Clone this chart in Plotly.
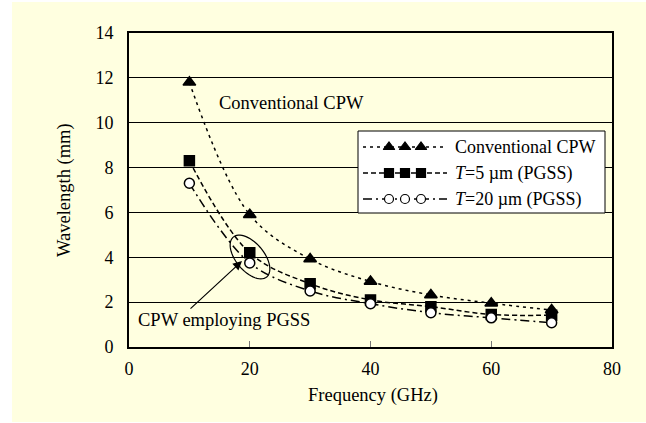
import numpy as np
import plotly.graph_objects as go

# ---- data ----
freq_ghz = [10, 20, 30, 40, 50, 60, 70]
conv_cpw = [11.8, 5.9, 3.92, 2.92, 2.32, 1.95, 1.65]
pgss_t5 = [8.3, 4.2, 2.82, 2.1, 1.8, 1.45, 1.42]
pgss_t20 = [7.3, 3.75, 2.5, 1.93, 1.53, 1.3, 1.08]
series_names = ["Conventional CPW", "<i>T</i>=5 µm (PGSS)", "<i>T</i>=20 µm (PGSS)"]
x_ticks = [0, 20, 40, 60, 80]
y_ticks = [0, 2, 4, 6, 8, 10, 12, 14]

W, H = 646, 423
L, R, T, B = 129, 612, 33, 347  # plot area in page pixels
XMAX, YMAX = 80, 14
FONT = "Liberation Serif"


def dx(px):
    return (px - L) / (R - L) * XMAX


def dy(py):
    return (B - py) / (B - T) * YMAX


def paper_x(px):
    return (px - L) / (R - L)


def paper_y(py):
    return (B - py) / (B - T)


styles = [
    dict(dash="3px,4px", symbol="triangle-up", fill="black", size=11),
    dict(dash="5px,3px", symbol="square", fill="black", size=10),
    dict(dash="9px,4px,2px,4px", symbol="circle", fill="white", size=10),
]
values = [conv_cpw, pgss_t5, pgss_t20]

fig = go.Figure()
for vals, st in zip(values, styles):
    fig.add_trace(go.Scatter(
        x=freq_ghz, y=vals, mode="lines+markers", showlegend=False,
        line=dict(color="black", width=1.5, dash=st["dash"], shape="spline", smoothing=1.0),
        marker=dict(symbol=st["symbol"], size=st["size"], color=st["fill"],
                    line=dict(color="black", width=1.5)),
        cliponaxis=False,
    ))

# ---- custom legend ----
leg_left, leg_right, leg_top, leg_bot = 358, 605, 131, 213
row_y = [147, 173, 199]
shapes = [
    dict(type="rect", xref="paper", yref="paper", layer="below",
         x0=paper_x(12), x1=paper_x(646), y0=paper_y(422), y1=paper_y(2),
         fillcolor="#FFFFE0", line=dict(width=0)),
    dict(type="rect", xref="x", yref="y", layer="between",
         x0=dx(leg_left), x1=dx(leg_right), y0=dy(leg_bot), y1=dy(leg_top),
         fillcolor="white", line=dict(color="black", width=1)),
]
annotations = []
for ry, st, name in zip(row_y, styles, series_names):
    fig.add_trace(go.Scatter(
        x=[dx(363), dx(447)], y=[dy(ry), dy(ry)], mode="lines", showlegend=False,
        line=dict(color="black", width=1.5, dash=st["dash"]), hoverinfo="skip"))
    fig.add_trace(go.Scatter(
        x=[dx(389), dx(405), dx(421)], y=[dy(ry)] * 3, mode="markers", showlegend=False,
        marker=dict(symbol=st["symbol"], size=st["size"] - 1, color=st["fill"],
                    line=dict(color="black", width=1.2)), hoverinfo="skip"))
    annotations.append(dict(x=dx(453), y=dy(ry), xref="x", yref="y", text=name,
                            showarrow=False, xanchor="left", yanchor="middle",
                            font=dict(family=FONT, size=18, color="black")))

# ---- ellipse around 20 GHz PGSS points ----
cx, cy, a, b, th = 250, 257, 26, 14, np.deg2rad(50)
t = np.linspace(0, 2 * np.pi, 60)
ex = cx + a * np.cos(t) * np.cos(th) - b * np.sin(t) * np.sin(th)
ey = cy + a * np.cos(t) * np.sin(th) + b * np.sin(t) * np.cos(th)
path = "M " + " L ".join(f"{dx(u):.4f},{dy(v):.4f}" for u, v in zip(ex, ey)) + " Z"
shapes.append(dict(type="path", xref="x", yref="y", path=path, layer="above",
                   line=dict(color="black", width=1.2)))

# ---- text annotations ----
annotations += [
    dict(x=dx(217), y=dy(103), xref="x", yref="y", text="Conventional CPW", showarrow=False,
         xanchor="left", yanchor="middle", font=dict(family=FONT, size=18.5, color="black")),
    dict(x=dx(136), y=dy(320), xref="x", yref="y", text="CPW employing PGSS", showarrow=False,
         xanchor="left", yanchor="middle", font=dict(family=FONT, size=18.5, color="black")),
    dict(x=dx(242), y=dy(261), xref="x", yref="y", text="", showarrow=True,
         ax=189 - 242, ay=310 - 261, arrowhead=2, arrowsize=1.5, arrowwidth=1.2,
         arrowcolor="black"),
    dict(x=paper_x(373), y=paper_y(395), xref="paper", yref="paper", text="Frequency (GHz)",
         showarrow=False, xanchor="center", yanchor="middle",
         font=dict(family=FONT, size=18.5, color="black")),
    dict(x=paper_x(64), y=paper_y(190), xref="paper", yref="paper", text="Wavelength (mm)",
         showarrow=False, xanchor="center", yanchor="middle", textangle=-90,
         font=dict(family=FONT, size=18.5, color="black")),
]

fig.update_layout(
    width=W, height=H,
    margin=dict(l=L, r=W - R, t=T, b=H - B, pad=0),
    paper_bgcolor="white", plot_bgcolor="white",
    shapes=shapes, annotations=annotations,
    font=dict(family=FONT, size=18, color="black"),
    xaxis=dict(range=[0, XMAX], tickvals=x_ticks, ticktext=[str(v) for v in x_ticks],
               showgrid=False, zeroline=False, showline=True, mirror=True,
               linecolor="black", linewidth=2, ticks="inside", ticklen=6,
               tickcolor="#777777", tickwidth=1, ticklabelstandoff=4,
               tickfont=dict(family=FONT, size=18, color="black")),
    yaxis=dict(range=[0, YMAX], tickvals=y_ticks, ticktext=[str(v) for v in y_ticks],
               showgrid=True, gridcolor="black", gridwidth=1, zeroline=False,
               showline=True, mirror=True, linecolor="black", linewidth=2,
               ticks="", ticklabelstandoff=10,
               tickfont=dict(family=FONT, size=18, color="black")),
)

fig.write_html(
    "out.html",
    config={"displayModeBar": False},
    post_script="document.body.style.margin='0';document.body.style.overflow='hidden';",
)
